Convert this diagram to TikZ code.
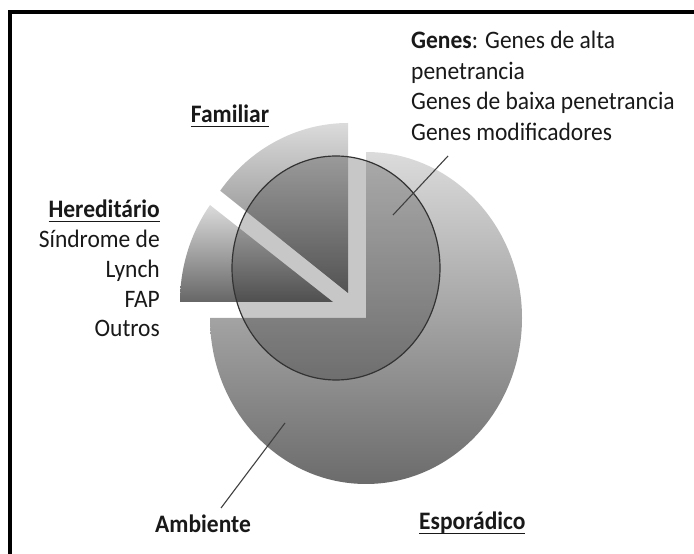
\documentclass[tikz,border=0pt]{standalone}
\usepackage{fontspec}
\usepackage{graphicx}
\setmainfont{Carlito}
\newcommand\myul[1]{\setbox0\hbox{#1}\rlap{\rule[-4pt]{\wd0}{1.6pt}}\box0}
\newcommand\stretchtxt[1]{\scalebox{1}[1.07]{#1}}
\definecolor{txt}{gray}{0.1}
\definecolor{ptr}{gray}{0.25}
\definecolor{ringline}{gray}{0.2}
\definecolor{shTop}{gray}{0.86}
\definecolor{shBot}{gray}{0.42}
\definecolor{heTop}{gray}{0.86}
\definecolor{heBot}{gray}{0.40}
\begin{document}
\begin{tikzpicture}[x=1pt,y=1pt,
  lbl/.style={inner sep=0pt, font=\fontsize{23.5}{28}\selectfont, text=txt},
  pointer/.style={draw=ptr, line width=1.1pt},
  framerule/.style={line width=3.5pt, draw=black},
  slice/.style={top color=shTop, bottom color=shBot},
  hslice/.style={top color=heTop, bottom color=heBot}]
\useasboundingbox (0,0) rectangle (694,554);
% frame
\draw[framerule] (8,542) -- (694,542);
\draw[framerule] (10,543.7) -- (10,0);
% sporadic (3/4 disc)
\shade[slice] (366,236) -- ++(0,166)
  arc[start angle=90, end angle=-180, x radius=156, y radius=166] -- cycle;
% familial
\shade[slice] (348,261) -- ++(0,170)
  arc[start angle=90, end angle=143, x radius=160, y radius=170] -- cycle;
% hereditary
\shade[hslice] (333,252) -- ++(143.5:153 and 163)
  arc[start angle=143.5, end angle=180, x radius=153, y radius=163] -- cycle;
% genes circle overlay
\fill[black, fill opacity=0.22] (336,286) ellipse[x radius=104, y radius=112];
\draw[ringline, line width=1.2pt] (336,286) ellipse[x radius=104, y radius=112];
% pointers
\coordinate (genesIn) at (393,339);
\coordinate (genesOut) at (448,398);
\draw[pointer] (genesIn) -- (genesOut);
\coordinate (ambIn) at (285,131);
\coordinate (ambOut) at (221,46);
\draw[pointer] (ambIn) -- (ambOut);
% texts
\node[lbl, anchor=base west] (g1) at (411,505.3) {\stretchtxt{\textbf{Genes}: Genes de alta}};
\node[lbl, anchor=base west] (g2) at (411,474.5) {\stretchtxt{penetrancia}};
\node[lbl, anchor=base west] (g3) at (411,444) {\stretchtxt{Genes de baixa penetrancia}};
\node[lbl, anchor=base west] (g4) at (411,413) {\stretchtxt{Genes modificadores}};
\node[lbl, anchor=base] (fam) at (230,431) {\stretchtxt{\myul{\textbf{Familiar}}}};
\node[lbl, anchor=base east] (h1) at (160,336) {\stretchtxt{\myul{\textbf{Hereditário}}}};
\node[lbl, anchor=base east] (h2) at (160,306) {\stretchtxt{Síndrome de}};
\node[lbl, anchor=base east] (h3) at (160,276) {\stretchtxt{Lynch}};
\node[lbl, anchor=base east] (h4) at (160,246) {\stretchtxt{FAP}};
\node[lbl, anchor=base east] (h5) at (160,217) {\stretchtxt{Outros}};
\node[lbl, anchor=base west] (amb) at (155,21) {\stretchtxt{\textbf{Ambiente}}};
\node[lbl, anchor=base west] (esp) at (419,24) {\stretchtxt{\myul{\textbf{Esporádico}}}};
\end{tikzpicture}
\end{document}
